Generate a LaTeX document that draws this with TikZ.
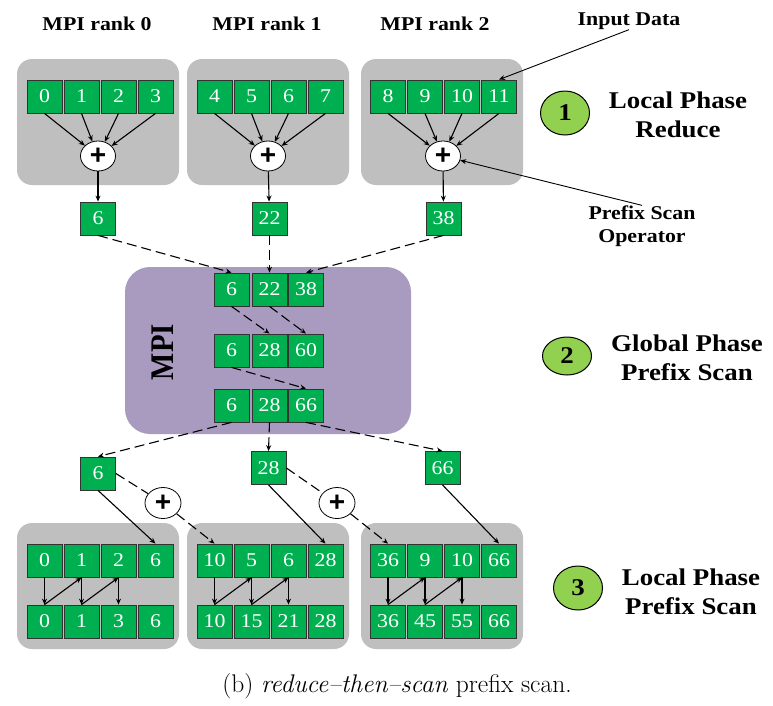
\documentclass[tikz,border=0pt]{standalone}
\usepackage{fontspec}
\usepackage{graphicx}
\newfontfamily\lblfont[FakeStretch=1.12]{Liberation Serif}
\newfontfamily\plusfont{Liberation Sans}
\usetikzlibrary{arrows.meta,shapes.geometric}
\definecolor{gboxc}{HTML}{00B050}
\definecolor{panelc}{HTML}{BFBFBF}
\definecolor{mpic}{HTML}{A99BC0}
\definecolor{phasec}{HTML}{92D050}
\tikzset{
  cell/.style={draw=black!80, fill=gboxc, text=white, minimum width=35pt, minimum height=33pt,
    inner sep=0pt, line width=0.8pt, font=\lblfont\fontsize{19.5}{19.5}\selectfont},
  panel/.style={fill=panelc, rounded corners=15pt, minimum width=162pt, minimum height=126pt, inner sep=0pt},
  mpibox/.style={fill=mpic, rounded corners=25pt, minimum width=286pt, minimum height=167pt, inner sep=0pt},
  opnode/.style={ellipse, draw, fill=white, line width=0.8pt, minimum width=35pt, minimum height=30pt,
    inner sep=0pt, font=\plusfont\bfseries\fontsize{28}{28}\selectfont},
  smallop/.style={opnode, minimum width=36pt, minimum height=31pt},
  phase/.style={ellipse, draw, fill=phasec, line width=1pt, minimum width=49pt, minimum height=44pt,
    inner sep=0pt, font=\lblfont\bfseries\fontsize{24}{24}\selectfont},
  lbl/.style={font=\lblfont\bfseries\fontsize{19.5}{23}\selectfont, align=center, inner sep=0pt},
  phaselbl/.style={font=\lblfont\bfseries\fontsize{24}{29}\selectfont, align=center, inner sep=0pt},
  arr/.style={-{Stealth[length=6pt,width=5pt]}, line width=1.1pt},
  darr/.style={arr, dash pattern=on 10pt off 5pt},
  dline/.style={line width=1.1pt, dash pattern=on 10pt off 5pt},
}
\begin{document}
\begin{tikzpicture}[x=1pt,y=-1pt]
\useasboundingbox (0,0) rectangle (773,705);

% panels and MPI box
\node[panel] (P0) at (98,122) {};
\node[panel] (P1) at (268,122) {};
\node[panel] (P2) at (442,122) {};
\node[panel] (Q0) at (98,586) {};
\node[panel] (Q1) at (268,586) {};
\node[panel] (Q2) at (442,586) {};
\node[mpibox] (mpi) at (268,350.5) {};
\node[rotate=90, font=\lblfont\bfseries\fontsize{33}{33}\selectfont, inner sep=0pt] (mpit) at (163,352) {\scalebox{0.78}[1]{MPI}};

% headings
\node[lbl] (h0) at (97,24) {MPI rank 0};
\node[lbl] (h1) at (267,24) {MPI rank 1};
\node[lbl] (h2) at (435,24) {MPI rank 2};
\node[lbl] (inp) at (629,21) {Input Data};
\node[lbl] (pso) at (642,226) {Prefix Scan\\Operator};

% phase markers
\node[phase] (c1) at (565,113) {1};
\node[phase, minimum height=38pt] (c2) at (567,356) {2};
\node[phase] (c3) at (578,588) {3};
\node[phaselbl] (l1) at (678,115) {Local Phase\\Reduce};
\node[phaselbl] (l2) at (687,358) {Global Phase\\Prefix Scan};
\node[phaselbl] (l3) at (691,592) {Local Phase\\Prefix Scan};

% top input cells
\foreach \r/\xa in {0/44.5,1/214.5,2/388}{
  \foreach \i in {0,...,3}{
    \pgfmathtruncatemacro\v{4*\r+\i}
    \node[cell] (t\r-\i) at ({\xa+37*\i},96.5) {\v};
  }
}
% reduce operators and results
\node[opnode] (p0) at (98,156) {+};
\node[opnode] (p1) at (268,156) {+};
\node[opnode] (p2) at (443,156) {+};
\node[cell] (r0) at (98,218.5) {6};
\node[cell] (r1) at (269.5,218.5) {22};
\node[cell] (r2) at (443.5,218.5) {38};
\foreach \r in {0,1,2}{
  \foreach \i in {0,...,3}{
    \draw[arr] (t\r-\i.south) -- (p\r);
  }
  \draw[arr] (p\r) -- (r\r);
}
\draw[arr, line width=0.9pt] (inp.south) -- (t2-3.north);
\draw[arr, line width=0.9pt] (pso.north) -- (p2);

% MPI cells
\node[cell] (m1-1) at (231.5,289.5) {6};
\node[cell] (m1-2) at (269.5,289.5) {22};
\node[cell] (m1-3) at (306,289.5) {38};
\node[cell] (m2-1) at (231.5,350.5) {6};
\node[cell] (m2-2) at (269.5,350.5) {28};
\node[cell] (m2-3) at (306,350.5) {60};
\node[cell] (m3-1) at (231.5,405.5) {6};
\node[cell] (m3-2) at (269.5,405.5) {28};
\node[cell] (m3-3) at (306,405.5) {66};
\draw[darr] (r0.south) -- (m1-1.north);
\draw[darr] (r1.south) -- (m1-2.north);
\draw[darr] (r2.south) -- (m1-3.north);
\draw[darr] (m1-1.south) -- (m2-2.north);
\draw[darr] (m1-2.south) -- (m2-3.north);
\draw[darr] (m2-1.south) -- (m3-3.north);

% broadcast prefix values
\node[cell] (s0) at (98,473.5) {6};
\node[cell] (s1) at (268.5,468) {28};
\node[cell] (s2) at (442.5,468) {66};
\draw[darr] (m3-1.south) -- (s0.north);
\draw[darr] (m3-2.south) -- (s1.north);
\draw[darr] (m3-3.south) -- (s2.north);
\node[smallop] (q0) at (163,503) {+};
\node[smallop] (q1) at (337,503) {+};

% bottom cells
\foreach \i/\va/\vb in {0/0/0,1/1/1,2/2/3,3/6/6}{
  \node[cell] (a0-\i) at ({44.5+37*\i},560.5) {\va};
  \node[cell] (b0-\i) at ({44.5+37*\i},621.5) {\vb};
}
\foreach \i/\va/\vb in {0/10/10,1/5/15,2/6/21,3/28/28}{
  \node[cell] (a1-\i) at ({214.5+37*\i},560.5) {\va};
  \node[cell] (b1-\i) at ({214.5+37*\i},621.5) {\vb};
}
\foreach \i/\va/\vb in {0/36/36,1/9/45,2/10/55,3/66/66}{
  \node[cell] (a2-\i) at ({388+37*\i},560.5) {\va};
  \node[cell] (b2-\i) at ({388+37*\i},621.5) {\vb};
}
\foreach \r in {0,1,2}{
  \draw[arr] (s\r.south) -- (a\r-3.north);
  \draw[arr] (a\r-0.south) -- (b\r-0.north);
  \draw[arr] (b\r-0.north) -- (a\r-1.south);
  \draw[arr] (a\r-1.south) -- (b\r-1.north);
  \draw[arr] (b\r-1.north) -- (a\r-2.south);
  \draw[arr] (a\r-2.south) -- (b\r-2.north);
}
\draw[dline] (s0.east) -- (q0);
\draw[darr] (q0) -- (a1-0.north);
\draw[dline] (s1.east) -- (q1);
\draw[darr] (q1) -- (a2-0.north);

% caption
\node[font=\fontsize{25.5}{25.5}\selectfont, inner sep=0pt] (cap) at (397,686) {(b) \textit{reduce--then--scan} prefix scan.};
\end{tikzpicture}
\end{document}
